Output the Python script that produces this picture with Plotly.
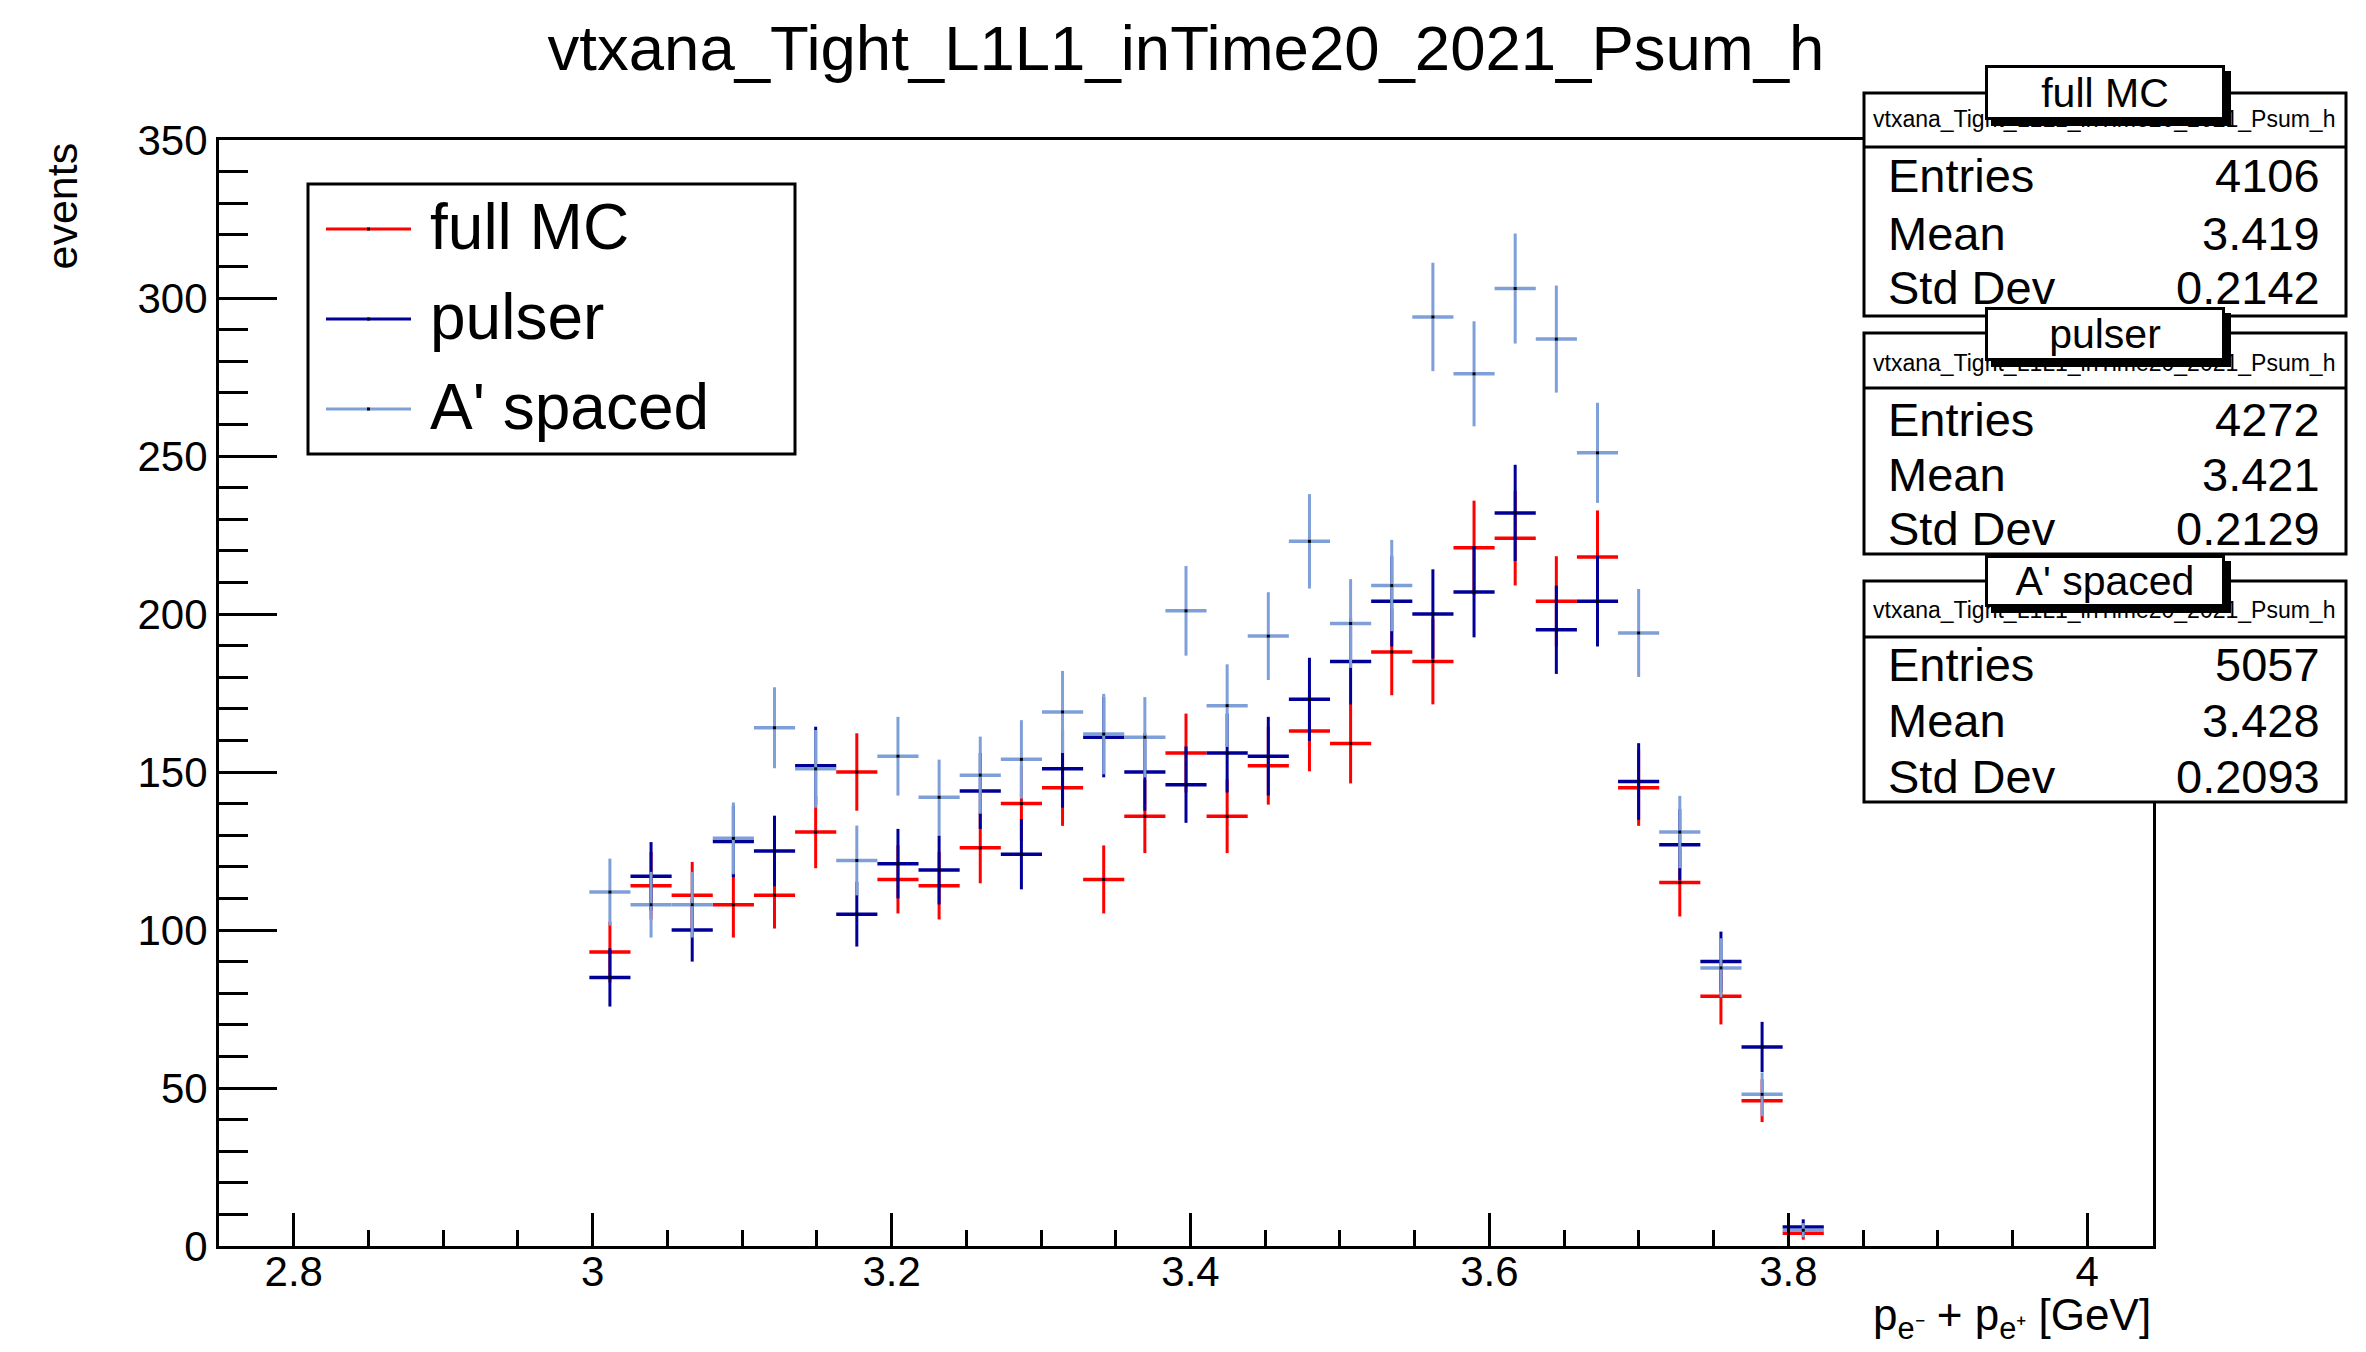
import numpy as np
import plotly.graph_objects as go

# ---------------- data ----------------
hist_lo, hist_hi, n_bins = 2.75, 4.044, 47
first_filled_bin = 9
series_names = ["full MC", "pulser", "A' spaced"]
full_mc = [93, 114, 111, 108, 111, 131, 150, 116, 114, 126, 140, 145, 116, 136, 156,
           136, 152, 163, 159, 188, 185, 221, 224, 204, 218, 145, 115, 79, 46, 4]
pulser = [85, 117, 100, 128, 125, 152, 105, 121, 119, 144, 124, 151, 161, 150, 146,
          156, 155, 173, 185, 204, 200, 207, 232, 195, 204, 147, 127, 90, 63, 6]
aprime = [112, 108, 108, 129, 164, 151, 122, 155, 142, 149, 154, 169, 162, 161, 201,
          171, 193, 223, 197, 209, 294, 276, 303, 287, 251, 194, 131, 88, 48, 5]
stat_entries = ["4106", "4272", "5057"]
stat_means = ["3.419", "3.421", "3.428"]
stat_stds = ["0.2142", "0.2129", "0.2093"]
hist_name = "vtxana_Tight_L1L1_inTime20_2021_Psum_h"
y_ticks = [0, 50, 100, 150, 200, 250, 300, 350]
x_ticks = [2.8, 3.0, 3.2, 3.4, 3.6, 3.8, 4.0]
x_ticklabels = ["2.8", "3", "3.2", "3.4", "3.6", "3.8", "4"]

# ---------------- geometry ----------------
W, H = 2366, 1352
L, R, T, B = 219, 2153, 140, 1246
FONT = "Liberation Sans, Arial, Helvetica, sans-serif"
colors = ["#ff0000", "#000099", "#7f9fd8"]

def px(x):
    return (x - L) / (R - L)

def py(y):
    return (B - y) / (B - T)

edges = np.linspace(hist_lo, hist_hi, n_bins + 1)
bw = edges[1] - edges[0]
centers_all = 0.5 * (edges[:-1] + edges[1:])

fig = go.Figure()
for name, vals, col in zip(series_names, [full_mc, pulser, aprime], colors):
    v = np.array(vals, dtype=float)
    xs = centers_all[first_filled_bin:first_filled_bin + len(v)]
    fig.add_trace(go.Scatter(
        x=xs, y=v, mode="markers", name=name, showlegend=False,
        marker=dict(symbol="square", size=3, color="black", line=dict(width=0)),
        error_y=dict(type="data", array=np.sqrt(v), thickness=3, width=0, color=col),
        error_x=dict(type="data", array=np.full(len(v), bw / 2), thickness=3.5, width=0, color=col),
        hoverinfo="x+y",
    ))

shapes = []
annotations = []

# ---------------- legend ----------------
shapes.append(dict(type="rect", xref="paper", yref="paper",
                   x0=px(308), x1=px(795), y0=py(184), y1=py(454),
                   fillcolor="white", line=dict(color="black", width=3), layer="above"))
leg_y = [229, 319, 409]
for name, col, yy in zip(series_names, colors, leg_y):
    shapes.append(dict(type="line", xref="paper", yref="paper",
                       x0=px(326), x1=px(411), y0=py(yy), y1=py(yy),
                       line=dict(color=col, width=3), layer="above"))
    shapes.append(dict(type="rect", xref="paper", yref="paper",
                       x0=px(367), x1=px(370), y0=py(yy - 1.5), y1=py(yy + 1.5),
                       fillcolor="black", line=dict(width=0), layer="above"))
    annotations.append(dict(text=name, xref="paper", yref="paper",
                            x=px(428), y=py(yy - 2), xanchor="left", yanchor="middle",
                            showarrow=False, font=dict(family=FONT, size=64, color="black")))

# ---------------- stat boxes ----------------
box_x0, box_x1 = 1864, 2346
boxes = [  # (top, header line, bottom, name y, rows y, label top, label bottom)
    (93, 147, 316, 119, [176, 234, 288], 65, 120),
    (333, 388, 554, 363, [419, 474, 528], 307, 361),
    (581, 637, 802, 610, [664, 720, 776], 555, 607),
]
label_x0, label_x1 = 1985, 2225
label_boxes = []
for i, (top, hl, bot, ny, rows, lt, lb) in enumerate(boxes):
    shapes.append(dict(type="rect", xref="paper", yref="paper",
                       x0=px(box_x0), x1=px(box_x1), y0=py(top), y1=py(bot),
                       fillcolor="white", line=dict(color="black", width=3), layer="above"))
    shapes.append(dict(type="line", xref="paper", yref="paper",
                       x0=px(box_x0), x1=px(box_x1), y0=py(hl), y1=py(hl),
                       line=dict(color="black", width=3), layer="above"))
    # shadow of label box
    shapes.append(dict(type="rect", xref="paper", yref="paper",
                       x0=px(label_x0 + 6), x1=px(label_x1 + 6), y0=py(lt + 6), y1=py(lb + 6),
                       fillcolor="black", line=dict(width=0), layer="above"))
    annotations.append(dict(text=hist_name, xref="paper", yref="paper",
                            x=px(2104), y=py(ny), xanchor="center", yanchor="middle",
                            showarrow=False, font=dict(family=FONT, size=23, color="black")))
    for lab, val, yy in zip(["Entries", "Mean", "Std Dev"],
                            [stat_entries[i], stat_means[i], stat_stds[i]], rows):
        annotations.append(dict(text=lab, xref="paper", yref="paper",
                                x=px(1886), y=py(yy), xanchor="left", yanchor="middle",
                                showarrow=False, font=dict(family=FONT, size=47, color="black")))
        annotations.append(dict(text=val, xref="paper", yref="paper",
                                x=px(2322), y=py(yy), xanchor="right", yanchor="middle",
                                showarrow=False, font=dict(family=FONT, size=47, color="black")))
    label_boxes.append(dict(text=series_names[i], xref="paper", yref="paper",
                            x=px((label_x0 + label_x1) / 2), y=py((lt + lb) / 2),
                            xanchor="center", yanchor="middle", showarrow=False,
                            width=label_x1 - label_x0 - 6, height=lb - lt - 6,
                            bgcolor="white", bordercolor="black", borderwidth=3, borderpad=0,
                            font=dict(family=FONT, size=41, color="black")))
annotations.extend(label_boxes)

# ---------------- axis titles ----------------
annotations.append(dict(text="events", xref="paper", yref="paper",
                        x=px(61), y=py(141), xanchor="center", yanchor="top",
                        textangle=-90, showarrow=False,
                        font=dict(family=FONT, size=43, color="black")))
annotations.append(dict(text="p<sub>e⁻</sub> + p<sub>e⁺</sub> [GeV]", xref="paper", yref="paper",
                        x=px(2153), y=py(1288), xanchor="right", yanchor="top",
                        showarrow=False, font=dict(family=FONT, size=44, color="black")))

fig.update_layout(
    width=W, height=H,
    margin=dict(l=L, r=W - R, t=T, b=H - B, pad=0),
    paper_bgcolor="white", plot_bgcolor="white",
    title=dict(text=hist_name, x=0.5, xref="paper", xanchor="center",
               y=1 - 48 / H, yref="container", yanchor="middle",
               font=dict(family=FONT, size=63.5, color="black")),
    shapes=shapes, annotations=annotations,
    showlegend=False,
    xaxis=dict(range=[hist_lo, hist_hi], showgrid=False, zeroline=False,
               showline=True, linecolor="black", linewidth=3, mirror=True,
               ticks="inside", ticklen=33, tickwidth=3, tickcolor="black",
               tickvals=x_ticks, ticktext=x_ticklabels, ticklabelstandoff=-13,
               tickfont=dict(family=FONT, size=42, color="black"),
               minor=dict(dtick=0.05, tick0=2.75, ticks="inside", ticklen=16,
                          tickwidth=3, tickcolor="black", showgrid=False)),
    yaxis=dict(range=[0, 350], showgrid=False, zeroline=False,
               showline=True, linecolor="black", linewidth=3, mirror=True,
               ticks="inside", ticklen=58, tickwidth=3, tickcolor="black",
               tickvals=y_ticks, ticklabelstandoff=0,
               tickfont=dict(family=FONT, size=42, color="black"),
               minor=dict(dtick=10, tick0=0, ticks="inside", ticklen=29,
                          tickwidth=3, tickcolor="black", showgrid=False)),
)

fig.write_html("out.html", config={"displayModeBar": False},
               post_script="document.body.style.margin='0px';")
